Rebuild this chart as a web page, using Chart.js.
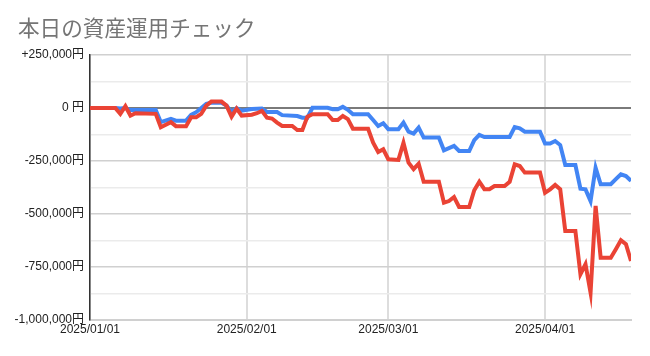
<!DOCTYPE html>
<html>
<head>
<meta charset="utf-8">
<script src="https://cdn.jsdelivr.net/npm/chart.js@4"></script>
<style>
  html, body { margin: 0; padding: 0; background: #fff; }
  #wrap { width: 650px; height: 356px; }
</style>
</head>
<body>
<div id="wrap"><canvas id="assetChart"></canvas></div>
<script>
// 表示期間の起点
const startDate = '2025-01-01';
const endDate = '2025-04-18';

// x軸の目盛り
const xTickLabels = ['2025/01/01', '2025/02/01', '2025/03/01', '2025/04/01'];

// 赤の系列（日付と評価損益）
const redDates = [
    '2025-01-01', '2025-01-06', '2025-01-07', '2025-01-08', '2025-01-09', '2025-01-10',
    '2025-01-14', '2025-01-15', '2025-01-17', '2025-01-18', '2025-01-20', '2025-01-21',
    '2025-01-22', '2025-01-23', '2025-01-24', '2025-01-25', '2025-01-27', '2025-01-28',
    '2025-01-29', '2025-01-30', '2025-01-31', '2025-02-02', '2025-02-03', '2025-02-04',
    '2025-02-05', '2025-02-06', '2025-02-07', '2025-02-08', '2025-02-10', '2025-02-11',
    '2025-02-12', '2025-02-13', '2025-02-14', '2025-02-17', '2025-02-18', '2025-02-19',
    '2025-02-20', '2025-02-21', '2025-02-22', '2025-02-25', '2025-02-26', '2025-02-27',
    '2025-02-28', '2025-03-01', '2025-03-03', '2025-03-04', '2025-03-05', '2025-03-06',
    '2025-03-07', '2025-03-08', '2025-03-11', '2025-03-12', '2025-03-13', '2025-03-14',
    '2025-03-15', '2025-03-17', '2025-03-18', '2025-03-19', '2025-03-20', '2025-03-21',
    '2025-03-22', '2025-03-24', '2025-03-25', '2025-03-26', '2025-03-27', '2025-03-28',
    '2025-03-31', '2025-04-01', '2025-04-02', '2025-04-03', '2025-04-04', '2025-04-05',
    '2025-04-07', '2025-04-08', '2025-04-09', '2025-04-10', '2025-04-11', '2025-04-12',
    '2025-04-14', '2025-04-15', '2025-04-16', '2025-04-17', '2025-04-18'
];
const redValues = [
    0, 0, -28000, 8000, -36000, -25000,
    -28000, -91000, -67000, -86000, -86000, -44000,
    -44000, -28000, 11000, 30000, 30000, 11000,
    -42000, -3000, -36000, -32000, -25000, -14000,
    -46000, -50000, -69000, -85000, -85000, -104000,
    -104000, -41000, -30000, -30000, -57000, -57000,
    -38000, -53000, -98000, -98000, -164000, -208000,
    -195000, -242000, -245000, -164000, -258000, -289000,
    -263000, -348000, -348000, -447000, -439000, -420000,
    -467000, -467000, -388000, -348000, -383000, -383000,
    -368000, -368000, -348000, -266000, -274000, -305000,
    -305000, -400000, -384000, -363000, -384000, -580000,
    -580000, -784000, -737000, -871000, -462000, -706000,
    -706000, -666000, -624000, -643000, -722000
];

// 青の系列
const blueDates = [
    '2025-01-01', '2025-01-06', '2025-01-07', '2025-01-08', '2025-01-09', '2025-01-14',
    '2025-01-15', '2025-01-17', '2025-01-18', '2025-01-20', '2025-01-21', '2025-01-22',
    '2025-01-24', '2025-01-25', '2025-01-27', '2025-01-28', '2025-01-29', '2025-01-30',
    '2025-01-31', '2025-02-02', '2025-02-04', '2025-02-05', '2025-02-07', '2025-02-08',
    '2025-02-11', '2025-02-12', '2025-02-13', '2025-02-14', '2025-02-17', '2025-02-18',
    '2025-02-19', '2025-02-20', '2025-02-21', '2025-02-22', '2025-02-25', '2025-02-26',
    '2025-02-27', '2025-02-28', '2025-03-01', '2025-03-03', '2025-03-04', '2025-03-05',
    '2025-03-06', '2025-03-07', '2025-03-08', '2025-03-11', '2025-03-12', '2025-03-14',
    '2025-03-15', '2025-03-17', '2025-03-18', '2025-03-19', '2025-03-20', '2025-03-25',
    '2025-03-26', '2025-03-27', '2025-03-28', '2025-03-31', '2025-04-01', '2025-04-02',
    '2025-04-03', '2025-04-04', '2025-04-05', '2025-04-07', '2025-04-08', '2025-04-09',
    '2025-04-10', '2025-04-11', '2025-04-12', '2025-04-14', '2025-04-15', '2025-04-16',
    '2025-04-17', '2025-04-18'
];
const blueValues = [
    0, 0, -3000, 0, -10000, -10000,
    -67000, -52000, -60000, -60000, -33000, -20000,
    19000, 24000, 24000, 11000, -20000, -1000,
    -13000, -5000, -3000, -19000, -19000, -34000,
    -38000, -46000, -46000, 1000, 1000, -6000,
    -6000, 5000, -9000, -30000, -30000, -57000,
    -85000, -72000, -100000, -100000, -69000, -112000,
    -121000, -93000, -140000, -140000, -200000, -179000,
    -203000, -203000, -152000, -127000, -137000, -137000,
    -90000, -96000, -112000, -112000, -168000, -168000,
    -156000, -175000, -269000, -269000, -381000, -384000,
    -439000, -282000, -360000, -360000, -336000, -313000,
    -321000, -344000
];

// 日付 → 起点からの日数
function dayIndex(s) {
    const d = new Date(s.replace(/\//g, '-') + 'T00:00:00Z');
    const o = new Date(startDate + 'T00:00:00Z');
    return Math.round((d - o) / 86400000);
}

function toPoints(dates, values) {
    return dates.map((d, i) => ({ x: dayIndex(d), y: values[i] }));
}

function yen(v) {
    if (v === 0) return '0 円';
    const s = Math.abs(v).toString().replace(/\B(?=(\d{3})+(?!\d))/g, ',');
    return (v > 0 ? '+' : '-') + s + '円';
}

const fontFamily = '"Liberation Sans", Arial, "Noto Sans CJK JP", sans-serif';

// タイトルだけ左に余白をとる
const titleIndent = {
    id: 'titleIndent',
    afterLayout(chart) {
        if (chart.titleBlock) chart.titleBlock.left = 18;
    }
};

const ctx = document.getElementById('assetChart').getContext('2d');
const assetChart = new Chart(ctx, {
    type: 'line',
    data: {
        datasets: [
            {
                label: '赤',
                data: toPoints(redDates, redValues),
                borderColor: '#ea4335',
                backgroundColor: '#ea4335',
                borderWidth: 4,
                pointRadius: 0,
                tension: 0
            },
            {
                label: '青',
                data: toPoints(blueDates, blueValues),
                borderColor: '#4285f4',
                backgroundColor: '#4285f4',
                borderWidth: 4,
                pointRadius: 0,
                tension: 0
            }
        ]
    },
    plugins: [titleIndent],
    options: {
        responsive: true,
        maintainAspectRatio: false,
        animation: false,
        layout: { padding: { left: 0, right: 19, top: 0, bottom: 0 } },
        plugins: {
            legend: { display: false },
            tooltip: { enabled: false },
            title: {
                display: true,
                text: '本日の資産運用チェック',
                align: 'start',
                color: '#757575',
                font: { family: '"Noto Sans CJK JP", sans-serif', size: 21.6, weight: 'normal' },
                padding: { top: 15, bottom: 14 }
            }
        },
        scales: {
            x: {
                type: 'linear',
                min: 0,
                max: dayIndex(endDate),
                afterBuildTicks: (axis) => {
                    axis.ticks = xTickLabels.map(l => ({ value: dayIndex(l) }));
                },
                afterFit: (axis) => { axis.height = 36; },
                ticks: {
                    autoSkip: false,
                    maxRotation: 0,
                    padding: 2,
                    color: '#222',
                    font: { family: fontFamily, size: 12 },
                    callback: (v) => {
                        const i = xTickLabels.findIndex(l => dayIndex(l) === v);
                        return i >= 0 ? xTickLabels[i] : '';
                    }
                },
                grid: { color: '#dddddd', lineWidth: 2, drawTicks: false },
                border: { display: true, color: '#d0d0d0', width: 2 }
            },
            y: {
                min: -1000000,
                max: 250000,
                afterFit: (axis) => { axis.width = 90; },
                ticks: {
                    stepSize: 125000,
                    autoSkip: false,
                    padding: 6,
                    color: '#222',
                    font: { family: fontFamily, size: 12 },
                    callback: (v) => (v % 250000 === 0 ? yen(v) : '')
                },
                grid: {
                    drawTicks: false,
                    color: (c) => {
                        const v = c.tick ? c.tick.value : null;
                        if (v === 0) return '#7a7a7a';
                        if (v % 250000 === 0) return '#d0d0d0';
                        return '#ebebeb';
                    },
                    lineWidth: (c) => (c.tick && c.tick.value === 0 ? 2 : 1.5)
                },
                border: { display: true, color: '#333', width: 1.5 }
            }
        }
    }
});
</script>
</body>
</html>
